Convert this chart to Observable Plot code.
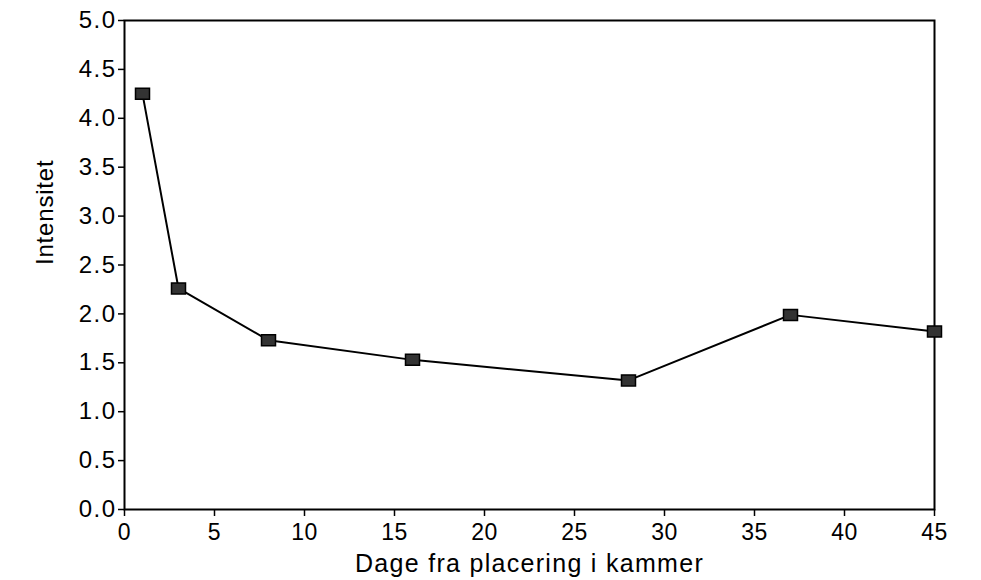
<!DOCTYPE html>
<html>
<head>
<meta charset="utf-8">
<script src="https://cdn.jsdelivr.net/npm/d3@7"></script>
<script src="https://cdn.jsdelivr.net/npm/@observablehq/plot@0.6"></script>
<style>
  html, body { margin: 0; padding: 0; background: #fff; }
  #chart { width: 981px; height: 580px; }
  g[aria-label="y-axis tick label"] text { letter-spacing: 1.5px; }
  g[aria-label="x-axis tick label"] text { letter-spacing: 0.5px; }
  g.xlab text { letter-spacing: 1.3px; }
  g.ylab text { letter-spacing: 0.8px; }
</style>
</head>
<body>
<div id="chart"></div>
<script>
const days = [1, 3, 8, 16, 28, 37, 45];
const intensitet = [4.25, 2.26, 1.73, 1.53, 1.32, 1.99, 1.82];
const xTicks = [0, 5, 10, 15, 20, 25, 30, 35, 40, 45];
const yTicks = [0, 0.5, 1, 1.5, 2, 2.5, 3, 3.5, 4, 4.5, 5];
const xLabel = "Dage fra placering i kammer";
const yLabel = "Intensitet";

const data = days.map((d, i) => ({ x: d, y: intensitet[i] }));

const rectSymbol = {
  draw(context, size) {
    const w = 14, h = 11;
    context.moveTo(-w / 2, -h / 2);
    context.lineTo(w / 2, -h / 2);
    context.lineTo(w / 2, h / 2);
    context.lineTo(-w / 2, h / 2);
    context.closePath();
  }
};

const chart = Plot.plot({
  width: 981,
  height: 580,
  marginLeft: 124,
  marginRight: 47,
  marginTop: 20,
  marginBottom: 71,
  style: { fontFamily: "Liberation Sans, Arial, sans-serif", fontSize: "22px", color: "#000", background: "#fff" },
  x: { domain: [0, 45] },
  y: { domain: [0, 5] },
  marks: [
    Plot.frame({ stroke: "#000", strokeWidth: 2 }),
    Plot.axisX({ ticks: xTicks, tickSize: 7, tickPadding: 7, fontSize: 23, strokeWidth: 1.5, label: null }),
    Plot.axisY({ ticks: yTicks, tickSize: 6, tickPadding: 2, fontSize: 24, strokeWidth: 1.5, tickFormat: d3.format(".1f"), label: null }),
    Plot.text([xLabel], { frameAnchor: "bottom", dy: 62, fontSize: 25, text: d => d, className: "xlab" }),
    Plot.text([yLabel], { frameAnchor: "left", dx: -79, rotate: -90, fontSize: 24, text: d => d, className: "ylab" }),
    Plot.line(data, { x: "x", y: "y", stroke: "#000", strokeWidth: 2 }),
    Plot.dot(data, { x: "x", y: "y", symbol: rectSymbol, r: 7, fill: "#333", stroke: "#000", strokeWidth: 1.5 })
  ]
});
document.getElementById("chart").appendChild(chart);
</script>
</body>
</html>
